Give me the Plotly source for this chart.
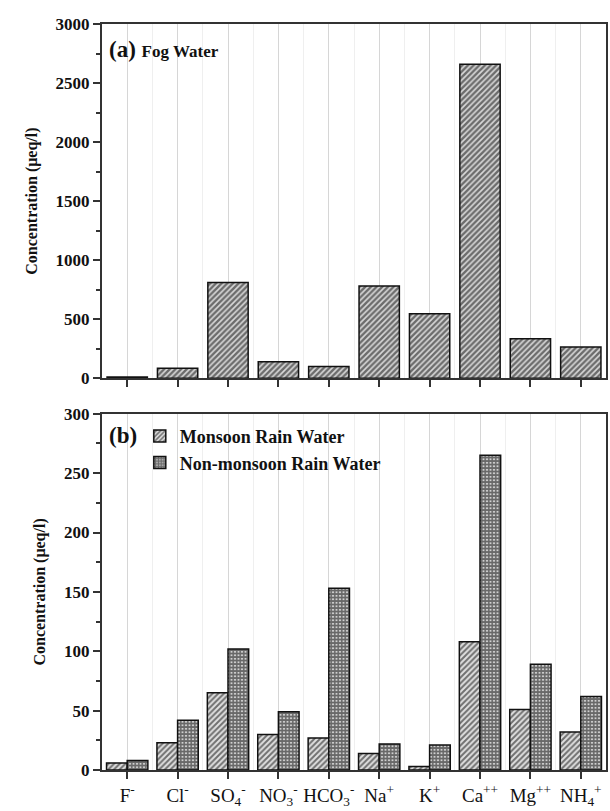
import plotly.graph_objects as go

categories = ["F<sup>-</sup>", "Cl<sup>-</sup>", "SO<sub>4</sub><sup>-</sup>", "NO<sub>3</sub><sup>-</sup>",
              "HCO<sub>3</sub><sup>-</sup>", "Na<sup>+</sup>", "K<sup>+</sup>", "Ca<sup>++</sup>",
              "Mg<sup>++</sup>", "NH<sub>4</sub><sup>+</sup>"]
fog_water = [10, 85, 810, 140, 100, 780, 545, 2660, 335, 265]
monsoon = [6, 23, 65, 30, 27, 14, 3, 108, 51, 32]
non_monsoon = [8, 42, 102, 49, 153, 22, 21, 265, 89, 62]

xpos = list(range(len(categories)))
serif = "Liberation Serif"

fig = go.Figure()
fig.add_trace(go.Bar(x=xpos, y=fog_water, xaxis="x", yaxis="y", width=0.8, showlegend=False,
                     marker=dict(color="white", line=dict(color="#111", width=1.5),
                                 pattern=dict(shape="/", fgcolor="#000", bgcolor="#d8d8d8", size=4, solidity=0.6))))
fig.add_trace(go.Bar(x=xpos, y=monsoon, xaxis="x2", yaxis="y2", name="<b>Monsoon Rain Water</b>",
                     offsetgroup="m", width=0.41,
                     marker=dict(color="white", line=dict(color="#111", width=1.5),
                                 pattern=dict(shape="/", fgcolor="#000", bgcolor="#e0e0e0", size=4, solidity=0.5))))
fig.add_trace(go.Bar(x=xpos, y=non_monsoon, xaxis="x2", yaxis="y2", name="<b>Non-monsoon Rain Water</b>",
                     offsetgroup="n", width=0.41,
                     marker=dict(color="white", line=dict(color="#111", width=1.5),
                                 pattern=dict(shape="+", fgcolor="#000", bgcolor="#d0d0d0", size=3.5, solidity=0.7))))

axis_common = dict(showline=True, linecolor="#333", linewidth=2, mirror=True, zeroline=False)
xcommon = dict(axis_common, range=[-0.5, 9.5], tickvals=xpos, ticks="outside", ticklen=7,
               tickcolor="#333", tickwidth=1.5, showgrid=True, gridcolor="#d6d6d6", gridwidth=1,
               minor=dict(tick0=0.5, dtick=1, showgrid=True, gridcolor="#efefef", ticklen=0))
ytick_font = dict(family=serif, size=17, color="#111", weight="bold")
fig.update_layout(
    width=610, height=811, margin=dict(l=102, r=2, t=24, b=33),
    paper_bgcolor="white", plot_bgcolor="white", barmode="group", bargap=0.18, bargroupgap=0,
    font=dict(family=serif, color="#111"),
    xaxis=dict(xcommon, domain=[0, 1], anchor="y", showticklabels=False),
    yaxis=dict(axis_common, domain=[0.5252, 1], anchor="x", range=[0, 3000], dtick=500,
               ticks="outside", ticklen=7, tickcolor="#333", tickwidth=1.5, showgrid=False,
               minor=dict(dtick=250, ticklen=4, ticks="outside", tickcolor="#333"),
               tickfont=ytick_font,
               title=dict(text="<b>Concentration (μeq/l)</b>", font=dict(family=serif, size=16), standoff=14)),
    xaxis2=dict(xcommon, domain=[0, 1], anchor="y2", ticktext=categories,
                tickfont=dict(family=serif, size=19, color="#111")),
    yaxis2=dict(axis_common, domain=[0, 0.4775], anchor="x2", range=[0, 300], dtick=50,
                ticks="outside", ticklen=7, tickcolor="#333", tickwidth=1.5, showgrid=False,
                minor=dict(dtick=25, ticklen=4, ticks="outside", tickcolor="#333"),
                tickfont=ytick_font,
                title=dict(text="<b>Concentration (μeq/l)</b>", font=dict(family=serif, size=16), standoff=14)),
    legend=dict(x=0.075, y=0.472, xanchor="left", yanchor="top", bgcolor="rgba(0,0,0,0)",
                font=dict(family=serif, size=18, color="#111"), tracegroupgap=0, itemwidth=30),
    annotations=[
        dict(text="<b>(a)</b> <b><span style='font-size:17px'>Fog Water</span></b>", xref="paper", yref="paper",
             x=0.01, y=0.985, xanchor="left", yanchor="top", showarrow=False,
             font=dict(family=serif, size=23, color="#111")),
        dict(text="<b>(b)</b>", xref="paper", yref="paper", x=0.01, y=0.468, xanchor="left", yanchor="top",
             showarrow=False, font=dict(family=serif, size=23, color="#111")),
    ],
)
fig.write_html("out.html")
